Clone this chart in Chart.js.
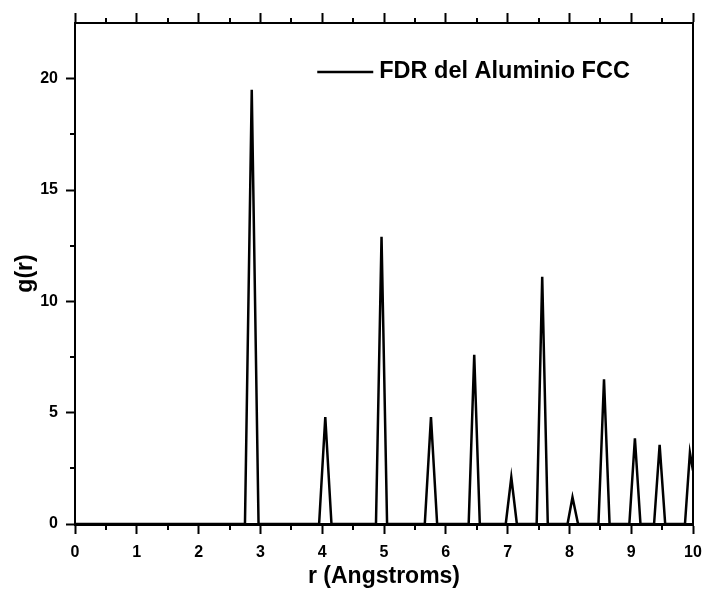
<!DOCTYPE html>
<html>
<head>
<meta charset="utf-8">
<title>FDR del Aluminio FCC</title>
<script src="https://cdn.jsdelivr.net/npm/chart.js@4/dist/chart.umd.min.js"></script>
<style>
  html, body { margin: 0; padding: 0; background: #fff; }
  #chart { display: block; }
</style>
</head>
<body>
<canvas id="chart" width="702" height="590"></canvas>
<script>
// --- Data ---
const seriesLabel = 'FDR del Aluminio FCC';
const rValues = [0, 2.75, 2.86, 2.97, 3.95, 4.05, 4.15, 4.87, 4.96, 5.05, 5.66, 5.76, 5.86,
                 6.37, 6.46, 6.55, 6.97, 7.06, 7.15, 7.47, 7.56, 7.65, 7.97, 8.05, 8.14,
                 8.47, 8.56, 8.65, 8.97, 9.06, 9.15, 9.37, 9.46, 9.55, 9.87, 9.95, 10.0];
const gValues = [0, 0, 19.5, 0, 0, 4.8, 0, 0, 12.9, 0, 0, 4.8, 0,
                 0, 7.6, 0, 0, 2.1, 0, 0, 11.1, 0, 0, 1.2, 0,
                 0, 6.5, 0, 0, 3.85, 0, 0, 3.55, 0, 0, 3.2, 2.4];
const xTitle = 'r (Angstroms)';
const yTitle = 'g(r)';

const FONT = '"Liberation Sans", Arial, sans-serif';

// --- Helpers ---
// fixed axis sizes, and no extra room for overhanging tick labels
function fixWidth(w) {
    return scale => { scale.width = w; scale.paddingTop = 0; scale.paddingBottom = 0; };
}
function fixHeight(h) {
    return scale => { scale.height = h; scale.paddingLeft = 0; scale.paddingRight = 0; };
}

// minor ticks halfway between the major ones
const minorTicks = {
    id: 'minorTicks',
    afterDraw(chart) {
        const ctx = chart.ctx;
        const { x, x2, y } = chart.scales;
        ctx.save();
        ctx.strokeStyle = '#000';
        ctx.lineWidth = 2;
        ctx.beginPath();
        for (let v = 0.5; v < 10; v += 1) {
            const px = Math.round(x.getPixelForValue(v));
            ctx.moveTo(px, x.top);
            ctx.lineTo(px, x.top + 6);
            ctx.moveTo(px, x2.bottom);
            ctx.lineTo(px, x2.bottom - 5);
        }
        for (let v = 2.5; v < 22.5; v += 5) {
            const py = Math.round(y.getPixelForValue(v));
            ctx.moveTo(y.right, py);
            ctx.lineTo(y.right - 5, py);
        }
        ctx.stroke();
        ctx.restore();
    }
};

// legend drawn inside the plot area, like the original
const insideLegend = {
    id: 'insideLegend',
    afterDatasetsDraw(chart) {
        const ctx = chart.ctx;
        const area = chart.chartArea;
        const ds = chart.data.datasets[0];
        const x0 = area.left + (area.right - area.left) * 0.392;
        const yMid = area.top + 49;
        ctx.save();
        ctx.strokeStyle = ds.borderColor;
        ctx.lineWidth = 2.5;
        ctx.beginPath();
        ctx.moveTo(x0, yMid);
        ctx.lineTo(x0 + 56, yMid);
        ctx.stroke();
        ctx.fillStyle = '#000';
        ctx.font = 'bold 23.5px ' + FONT;
        ctx.textBaseline = 'middle';
        ctx.fillText(ds.label, x0 + 62, yMid);
        ctx.restore();
    }
};

const tickFont = { family: FONT, size: 16, weight: 'bold' };
const titleFont = { family: FONT, size: 23, weight: 'bold' };

new Chart(document.getElementById('chart'), {
    type: 'line',
    data: {
        datasets: [{
            label: seriesLabel,
            data: rValues.map((r, i) => ({ x: r, y: gValues[i] })),
            borderColor: '#000',
            borderWidth: 2.5,
            pointRadius: 0,
            tension: 0,
            fill: false
        }]
    },
    options: {
        responsive: false,
        animation: false,
        layout: { padding: 0 },
        plugins: {
            legend: { display: false },
            tooltip: { enabled: false }
        },
        scales: {
            x: {
                type: 'linear',
                position: 'bottom',
                min: 0,
                max: 10,
                afterFit: fixHeight(66),
                border: { display: true, color: '#000', width: 3 },
                grid: { drawOnChartArea: false, drawTicks: true, tickLength: 10, tickWidth: 2, tickColor: '#000' },
                ticks: { stepSize: 1, color: '#000', font: tickFont, padding: 9, maxRotation: 0 },
                title: { display: true, text: xTitle, color: '#000', font: titleFont, padding: { top: 0, bottom: 0 } }
            },
            x2: {
                type: 'linear',
                position: 'top',
                min: 0,
                max: 10,
                afterFit: fixHeight(23),
                border: { display: true, color: '#000', width: 2 },
                grid: { drawOnChartArea: false, drawTicks: true, tickLength: 10, tickWidth: 2, tickColor: '#000' },
                ticks: { stepSize: 1, display: false }
            },
            y: {
                type: 'linear',
                position: 'left',
                min: 0,
                max: 22.5,
                afterFit: fixWidth(75),
                border: { display: true, color: '#000', width: 2 },
                grid: { drawOnChartArea: false, drawTicks: true, tickLength: 9, tickWidth: 2, tickColor: '#000' },
                ticks: { stepSize: 5, includeBounds: false, color: '#000', font: tickFont, padding: 8 },
                title: { display: true, text: yTitle, color: '#000', font: titleFont, padding: { top: 12, bottom: 0 } }
            },
            y2: {
                type: 'linear',
                position: 'right',
                min: 0,
                max: 22.5,
                afterFit: fixWidth(9),
                border: { display: true, color: '#000', width: 2 },
                grid: { drawOnChartArea: false, drawTicks: false },
                ticks: { display: false }
            }
        }
    },
    plugins: [minorTicks, insideLegend]
});
</script>
</body>
</html>
